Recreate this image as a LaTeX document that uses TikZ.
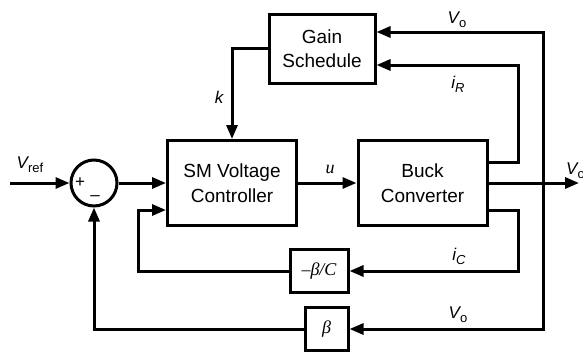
\documentclass[tikz,border=0pt]{standalone}
\usepackage{fontspec}
\setmainfont{Liberation Sans}
\newfontfamily\tms{Liberation Serif}
\usetikzlibrary{arrows.meta}

\newcommand{\sig}[2]{{\itshape #1}\raisebox{-0.45ex}{\fontsize{13}{13}\selectfont #2}}

\begin{document}
\begin{tikzpicture}[
  x=1pt, y=-1pt,
  block/.style={rectangle, draw, line width=3pt, fill=white, align=center,
                font=\fontsize{19}{24.5}\selectfont},
  sumnode/.style={circle, draw, line width=3pt, minimum size=46pt, inner sep=0pt},
  wire/.style={line width=3pt},
  sigarrow/.style={wire, -{Triangle[length=14pt,width=11pt]}},
  label/.style={font=\fontsize{17}{17}\selectfont, inner sep=0pt},
  sign/.style={font=\fontsize{17}{17}\selectfont, inner sep=0pt},
]
\useasboundingbox (0,0) rectangle (583,356);

% blocks
\node[block, minimum width=106pt, minimum height=69pt] (gain) at (322,48.5) {Gain\\Schedule};
\node[block, minimum width=129pt, minimum height=85pt] (sm) at (232,183) {SM Voltage\\Controller};
\node[block, minimum width=129pt, minimum height=85pt] (buck) at (422.5,183) {Buck\\Converter};
\node[block, minimum width=58pt, minimum height=43pt, inner sep=0pt,
      font=\fontsize{18}{18}\selectfont\tms] (negbc) at (319,271) {–{\itshape β/C}};
\node[block, minimum width=43pt, minimum height=43pt, inner sep=0pt,
      font=\fontsize{18}{18}\selectfont\tms] (beta) at (326.5,329) {\itshape β};
\node[sumnode] (sum) at (94,183) {};
\node[sign] (plus) at (80,183) {+};
\node[sign] (minus) at (95,198) {–};

% free ends and corners
\coordinate (vin) at (10,183);
\coordinate (vout) at (579,183);
\coordinate (jo) at (543,183);

% signals
\draw[sigarrow] (vin) -- (sum);
\draw[sigarrow] (sum) -- (sm);
\draw[sigarrow] (sm) -- (buck);
\draw[sigarrow] (buck) -- (vout);
\draw[sigarrow] (gain.west) -| (sm.north);
\draw[sigarrow] ([yshift=21pt]buck.east) -- ++(30,0) |- ([yshift=-16.5pt]gain.east);
\draw[sigarrow] (jo) |- ([yshift=16.5pt]gain.east);
\draw[sigarrow] (jo) |- (beta.east);
\draw[sigarrow] ([yshift=-27pt]buck.east) -- ++(30,0) |- (negbc.east);
\draw[sigarrow] (negbc.west) -- ++(-150,0) |- ([yshift=-27pt]sm.west);
\draw[sigarrow] (beta.west) -| (sum.south);

% labels
\node[label] (lvref) at (30,165) {\sig{V}{ref}};
\node[label] (lk) at (219,97) {\itshape k};
\node[label, font=\fontsize{18}{18}\selectfont\tms] (lu) at (330,169) {\itshape u};
\node[label] (lvo1) at (457,20) {\sig{V}{o}};
\node[label] (liR) at (458,84) {\sig{i}{\itshape R}};
\node[label] (liC) at (459,256) {\sig{i}{\itshape C}};
\node[label] (lvo2) at (458,315) {\sig{V}{o}};
\node[label, anchor=west] (lvo3) at (566,171) {\sig{V}{o}};
\end{tikzpicture}
\end{document}
